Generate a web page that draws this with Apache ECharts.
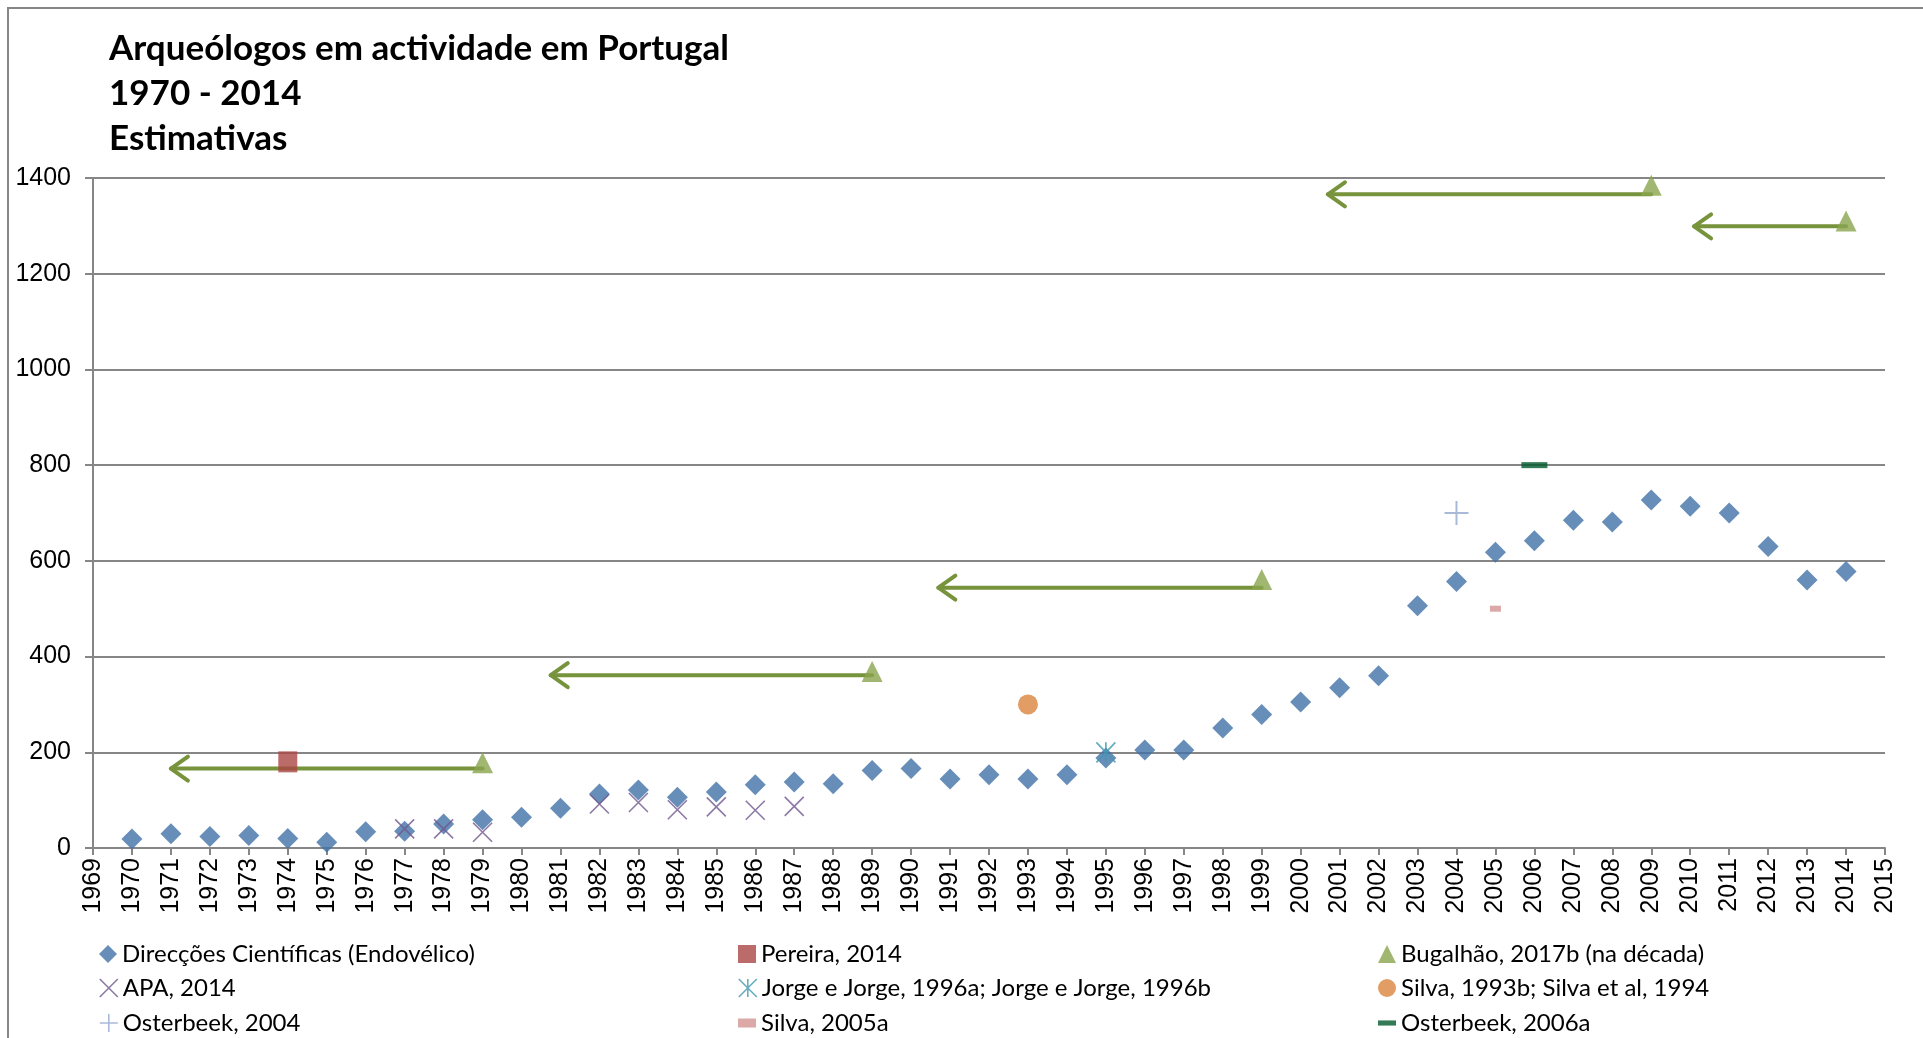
<!DOCTYPE html>
<html>
<head>
<meta charset="utf-8">
<script src="https://cdn.jsdelivr.net/npm/echarts@6/dist/echarts.min.js"></script>
<style>
  html, body { margin: 0; padding: 0; background: #fff; }
  #main { width: 1923px; height: 1038px; }
</style>
</head>
<body>
<div id="main"></div>
<script>
// anos 1970 - 2014
var years = [];
for (var y = 1970; y <= 2014; y++) years.push(y);

// Direcções Científicas (Endovélico)
var endovelico = [19, 30, 24, 26, 20, 12, 34, 35, 50, 59,
  64, 83, 113, 121, 106, 117, 132, 138, 134, 162,
  166, 144, 153, 144, 153, 188, 205, 205, 251, 279,
  305, 335, 360, 506, 557, 618, 642, 685, 681, 727,
  714, 700, 630, 560, 578];

var apaYears = [1977, 1978, 1979, 1982, 1983, 1984, 1985, 1986, 1987];
var apaValues = [40, 40, 33, 92, 95, 80, 86, 79, 87];

var pereira = [[1974, 180]];
var bugalhao = [[1979, 178], [1989, 369], [1999, 561], [2009, 1385], [2014, 1310]];
var jorge = [[1995, 200]];
var silva1993 = [[1993, 300]];
var osterbeek2004 = [[2004, 700]];
var silva2005 = [[2005, 500]];
var osterbeek2006 = [[2006, 800]];

// setas da década: [início, ponta, y]
var arrowStart = [1979, 1989, 1999, 2009, 2014];
var arrowEnd = [1971, 1980.75, 1990.7, 2000.7, 2010.1];
var arrowY = [166, 361, 544, 1366, 1299];

var names = [
  'Direcções Científicas (Endovélico)', 'Pereira, 2014', 'Bugalhão, 2017b (na década)',
  'APA, 2014', 'Jorge e Jorge, 1996a; Jorge e Jorge, 1996b', 'Silva, 1993b; Silva et al, 1994',
  'Osterbeek, 2004', 'Silva, 2005a', 'Osterbeek, 2006a'
];

var pathX = 'path://M0,0L10,10M10,0L0,10';
var pathStar = 'path://M0,0L10,10M10,0L0,10M5,0L5,10';
var pathPlus = 'path://M5,0L5,10M0,5L10,5';

var dom = document.getElementById('main');
var myChart = echarts.init(dom);

// legenda: 3 colunas x 3 linhas
var legendItems = [
  names[0],
  { name: names[1], icon: 'rect' },
  { name: names[2], icon: 'triangle' },
  { name: names[3], icon: pathX, itemStyle: { color: 'transparent', borderColor: '#71588F', borderWidth: 1.6 } },
  { name: names[4], icon: pathStar, itemStyle: { color: 'transparent', borderColor: '#4198AF', borderWidth: 1.6 } },
  { name: names[5], icon: 'circle' },
  { name: names[6], icon: pathPlus, itemStyle: { color: 'transparent', borderColor: '#93A9CF', borderWidth: 1.6 } },
  { name: names[7], icon: 'path://M0,0L10,0L10,5L0,5Z' },
  { name: names[8], icon: 'path://M0,0L14,0L14,4L0,4Z' }
];
var colLeft = [99, 738, 1378];
var rowTop = [940, 974, 1009];
var legends = legendItems.map(function (item, i) {
  return {
    orient: 'horizontal', left: colLeft[i % 3], top: rowTop[Math.floor(i / 3)],
    padding: 0, itemWidth: 18, itemHeight: 18,
    textStyle: { fontFamily: 'Lato', fontSize: 24, color: '#000', lineHeight: 28 },
    data: [item]
  };
});

var option = {
  animation: false,
  backgroundColor: '#fff',
  graphic: [{
    type: 'rect',
    shape: { x: 8, y: 8, width: 2000, height: 1100 },
    style: { fill: 'none', stroke: '#868686', lineWidth: 2 },
    silent: true,
    z: -1
  }],
  title: {
    text: 'Arqueólogos em actividade em Portugal\n1970 - 2014\nEstimativas',
    left: 104,
    top: 21,
    textStyle: { fontFamily: 'Lato', fontWeight: 'bold', fontSize: 35, lineHeight: 45, color: '#000' }
  },
  grid: { left: 93, right: 38, top: 178, bottom: 190 },
  legend: legends,
  xAxis: {
    type: 'value',
    min: 1969,
    max: 2015,
    interval: 1,
    axisLine: { lineStyle: { color: '#868686', width: 2 } },
    axisTick: { show: true, length: 7, lineStyle: { color: '#868686', width: 2 } },
    splitLine: { show: false },
    axisLabel: {
      rotate: 90, margin: 10, color: '#000', fontFamily: 'Liberation Sans', fontSize: 25,
      formatter: function (v) { return String(v); }
    }
  },
  yAxis: {
    type: 'value',
    min: 0,
    max: 1400,
    interval: 200,
    axisLine: { show: true, lineStyle: { color: '#868686', width: 2 } },
    axisTick: { show: true, length: 8, lineStyle: { color: '#868686', width: 2 } },
    splitLine: { lineStyle: { color: '#868686', width: 2 } },
    axisLabel: {
      margin: 22, color: '#000', fontFamily: 'Liberation Sans', fontSize: 25,
      formatter: function (v) { return String(v); }
    }
  },
  series: [
    {
      name: names[0], type: 'scatter', symbol: 'diamond', symbolSize: 21,
      itemStyle: { color: '#4170A8' }, z: 3,
      data: years.map(function (y, i) { return [y, endovelico[i]]; })
    },
    {
      name: names[1], type: 'scatter', symbol: 'rect', symbolSize: [19, 21],
      itemStyle: { color: '#AA4643' }, z: 4, data: pereira
    },
    {
      // setas
      name: 'setas', type: 'custom', z: 4, silent: true,
      data: arrowStart.map(function (s, i) { return [s, arrowEnd[i], arrowY[i]]; }),
      renderItem: function (params, api) {
        var p0 = api.coord([api.value(0), api.value(2)]);
        var p1 = api.coord([api.value(1), api.value(2)]);
        var st = { stroke: '#77933C', lineWidth: 4, fill: 'none', lineCap: 'round', lineJoin: 'round' };
        return {
          type: 'group',
          children: [
            { type: 'line', shape: { x1: p0[0], y1: p0[1], x2: p1[0], y2: p1[1] }, style: st },
            { type: 'polyline', shape: { points: [[p1[0] + 17, p1[1] - 12], [p1[0], p1[1]], [p1[0] + 17, p1[1] + 12]] }, style: st }
          ]
        };
      }
    },
    {
      name: names[2], type: 'scatter', symbol: 'triangle', symbolSize: 21,
      itemStyle: { color: '#89A54E' }, z: 5, data: bugalhao
    },
    {
      name: names[3], type: 'scatter', symbol: pathX, symbolSize: [19, 19],
      itemStyle: { color: 'transparent', borderColor: '#71588F', borderWidth: 1.6 }, z: 4,
      data: apaYears.map(function (y, i) { return [y, apaValues[i]]; })
    },
    {
      name: names[4], type: 'scatter', symbol: pathStar, symbolSize: [19, 20],
      itemStyle: { color: 'transparent', borderColor: '#4198AF', borderWidth: 1.8 }, z: 4, data: jorge
    },
    {
      name: names[5], type: 'scatter', symbol: 'circle', symbolSize: 20,
      itemStyle: { color: '#DB843D' }, z: 4, data: silva1993
    },
    {
      name: names[6], type: 'scatter', symbol: pathPlus, symbolSize: [24, 24],
      itemStyle: { color: 'transparent', borderColor: '#93A9CF', borderWidth: 2 }, z: 4, data: osterbeek2004
    },
    {
      name: names[7], type: 'scatter', symbol: 'rect', symbolSize: [11, 6],
      itemStyle: { color: '#D19392' }, z: 4, data: silva2005
    },
    {
      name: names[8], type: 'scatter', symbol: 'rect', symbolSize: [26, 6],
      itemStyle: { color: '#00592D' }, z: 4, data: osterbeek2006
    }
  ]
};

myChart.setOption(option);
</script>
</body>
</html>
